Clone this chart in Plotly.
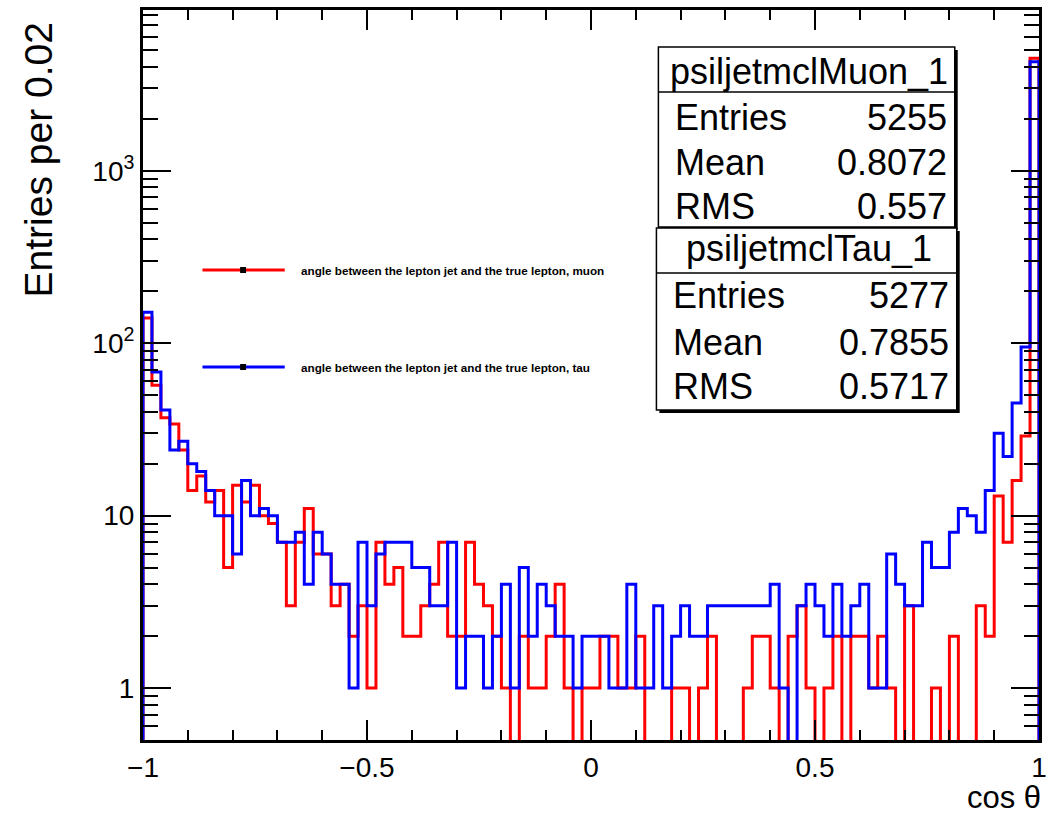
import numpy as np
import plotly.graph_objects as go

# 100 bins of cos(theta) in [-1, 1]
bin_edges = np.linspace(-1.0, 1.0, 101)

muon_counts = [
    140, 57, 37, 34, 24, 14, 17, 12, 14, 5,
    15, 12, 15, 10, 9, 7, 3, 7, 11, 6,
    6, 3, 4, 2, 3, 1, 7, 4, 5, 2,
    2, 3, 4, 7, 2, 2, 7, 4, 3, 2,
    1, 0, 2, 1, 1, 2, 4, 1, 0, 1,
    1, 2, 2, 1, 1, 2, 0, 0, 0, 1,
    1, 0, 1, 2, 0, 0, 0, 1, 2, 2,
    1, 0, 2, 3, 1, 0, 1, 2, 0, 2,
    2, 1, 2, 1, 0, 3, 0, 0, 1, 0,
    2, 0, 0, 3, 2, 13, 7, 16, 29, 4490,
]

tau_counts = [
    151, 68, 41, 24, 27, 20, 18, 14, 10, 10,
    6, 16, 10, 11, 10, 7, 7, 8, 4, 8,
    6, 4, 4, 1, 7, 3, 6, 7, 7, 7,
    5, 5, 3, 3, 7, 1, 2, 2, 1, 2,
    4, 1, 5, 2, 4, 3, 2, 2, 1, 2,
    2, 2, 1, 1, 4, 1, 1, 3, 1, 2,
    3, 2, 2, 3, 3, 3, 3, 3, 3, 3,
    4, 1, 0, 3, 4, 3, 2, 4, 2, 3,
    4, 1, 1, 6, 4, 3, 3, 7, 5, 5,
    8, 11, 10, 8, 14, 30, 22, 45, 95, 4290,
]

muon_label = "angle between the lepton jet and the true lepton, muon"
tau_label = "angle between the lepton jet and the true lepton, tau"

muon_stats_title = "psiljetmclMuon_1"
muon_stats = [("Entries", "5255"), ("Mean", "0.8072"), ("RMS", "0.557")]
tau_stats_title = "psiljetmclTau_1"
tau_stats = [("Entries", "5277"), ("Mean", "0.7855"), ("RMS", "0.5717")]

x_ticks = [-1, -0.5, 0, 0.5, 1]
y_ticks = [1, 10, 100, 1000]
y_ticktext = ["1", "10", "10<sup>2</sup>", "10<sup>3</sup>"]

Y_MIN, Y_MAX = 0.5, 8550.0

# ---- canvas geometry -------------------------------------------------------
W, H = 1053, 815
ML, MR, MT, MB = 143, 6, 10, 75
PW, PH = W - ML - MR, H - MT - MB
FONT = "Liberation Sans, Arial, Helvetica, sans-serif"


def fx(px):
    return (px - ML) / PW


def fy(py):
    return (H - MB - py) / PH


def step_outline(counts):
    """Histogram outline (ROOT style): empty bins drop below the frame."""
    floor = 0.1
    c = np.asarray(counts, dtype=float)
    c = np.where(c > 0, c, floor)
    xs = np.concatenate([[bin_edges[0]], bin_edges[:-1], [bin_edges[-1], bin_edges[-1]]])
    ys = np.concatenate([[floor], c, [c[-1], floor]])
    return xs, ys


fig = go.Figure()
for counts, color in ((muon_counts, "#ff0000"), (tau_counts, "#0000ff")):
    xs, ys = step_outline(counts)
    fig.add_trace(go.Scatter(
        x=xs, y=ys, mode="lines",
        line=dict(color=color, width=3, shape="hv"),
        showlegend=False, hoverinfo="skip",
    ))

minor_y = [v * d for d in (0.1, 1, 10, 100, 1000) for v in range(2, 10)
           if Y_MIN < v * d < Y_MAX and v * d not in y_ticks]

fig.update_xaxes(
    range=[-1, 1], tickvals=x_ticks, ticks="inside", ticklen=20, tickwidth=1.5,
    tickcolor="black", minor=dict(dtick=0.1, ticks="inside", ticklen=10,
                                  tickwidth=1.5, tickcolor="black"),
    showline=True, linewidth=3, linecolor="black", mirror="allticks",
    showgrid=False, zeroline=False,
    tickfont=dict(family=FONT, size=28, color="black"),
)
fig.update_yaxes(
    type="log", range=[np.log10(Y_MIN), np.log10(Y_MAX)],
    tickvals=y_ticks, ticktext=y_ticktext, ticks="inside", ticklen=28,
    tickwidth=1.5, tickcolor="black",
    minor=dict(tickvals=minor_y, ticks="inside", ticklen=15, tickwidth=1.5,
               tickcolor="black"),
    showline=True, linewidth=3, linecolor="black", mirror="allticks",
    showgrid=False, zeroline=False,
    tickfont=dict(family=FONT, size=28, color="black"),
)

shapes = []
annotations = []

# axis titles
annotations.append(dict(
    text="Entries per 0.02", x=fx(38), y=fy(20), xref="paper", yref="paper",
    xanchor="center", yanchor="top", textangle=-90, showarrow=False,
    font=dict(family=FONT, size=39, color="black"),
))
annotations.append(dict(
    text="cos θ", x=fx(1051), y=fy(797), xref="paper", yref="paper",
    xanchor="right", yanchor="middle", showarrow=False,
    font=dict(family=FONT, size=31, color="black"),
))


def stats_box(x0, x1, y0, y1, ysep, title, rows, title_y, row_ys):
    # drop shadow
    shapes.append(dict(type="rect", xref="paper", yref="paper",
                       x0=fx(x0 + 3), x1=fx(x1 + 3), y0=fy(y0 + 3), y1=fy(y1 + 3),
                       fillcolor="black", line=dict(width=0)))
    shapes.append(dict(type="rect", xref="paper", yref="paper",
                       x0=fx(x0), x1=fx(x1), y0=fy(y0), y1=fy(y1),
                       fillcolor="white", line=dict(color="black", width=1.5)))
    shapes.append(dict(type="line", xref="paper", yref="paper",
                       x0=fx(x0), x1=fx(x1), y0=fy(ysep), y1=fy(ysep),
                       line=dict(color="black", width=1.5)))
    annotations.append(dict(
        text=title, x=fx((x0 + x1) / 2 + 2), y=fy(title_y), xref="paper", yref="paper",
        xanchor="center", yanchor="middle", showarrow=False,
        font=dict(family=FONT, size=36, color="black"),
    ))
    for (name, value), ry in zip(rows, row_ys):
        annotations.append(dict(
            text=name, x=fx(x0 + 15), y=fy(ry), xref="paper", yref="paper",
            xanchor="left", yanchor="middle", showarrow=False,
            font=dict(family=FONT, size=36, color="black"),
        ))
        annotations.append(dict(
            text=value, x=fx(x1 - 6), y=fy(ry), xref="paper", yref="paper",
            xanchor="right", yanchor="middle", showarrow=False,
            font=dict(family=FONT, size=36, color="black"),
        ))


stats_box(663, 962, 47, 227, 92, muon_stats_title, muon_stats, 71, [118, 162, 207])
stats_box(661, 964, 228, 410, 273, tau_stats_title, tau_stats, 248, [296, 342, 387])


def legend_entry(y, color, label):
    shapes.append(dict(type="line", xref="paper", yref="paper",
                       x0=fx(203), x1=fx(286), y0=fy(y), y1=fy(y),
                       line=dict(color=color, width=3)))
    shapes.append(dict(type="rect", xref="paper", yref="paper",
                       x0=fx(241), x1=fx(247), y0=fy(y - 3), y1=fy(y + 3),
                       fillcolor="black", line=dict(width=0)))
    annotations.append(dict(
        text="<b>" + label + "</b>", x=fx(300), y=fy(y), xref="paper", yref="paper",
        xanchor="left", yanchor="middle", showarrow=False,
        font=dict(family=FONT, size=11.7, color="black"),
    ))


legend_entry(270, "#ff0000", muon_label)
legend_entry(367, "#0000ff", tau_label)

fig.update_layout(
    width=W, height=H,
    margin=dict(l=ML, r=MR, t=MT, b=MB, pad=0),
    paper_bgcolor="white", plot_bgcolor="white",
    shapes=shapes, annotations=annotations,
    showlegend=False,
)

fig.write_html("out.html", config={"displayModeBar": False})
